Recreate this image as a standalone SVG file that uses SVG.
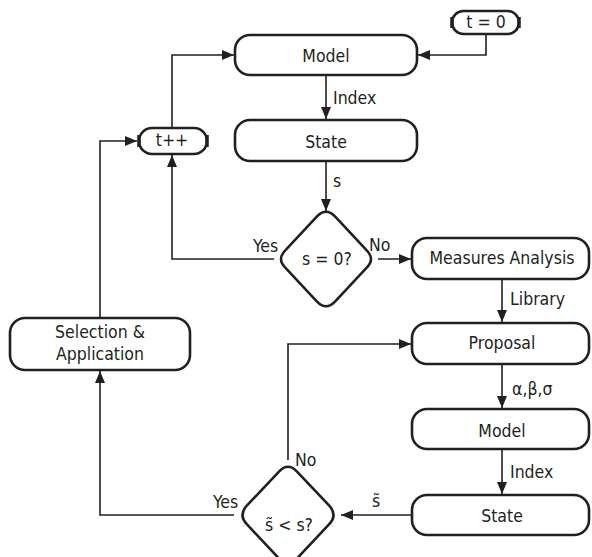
<svg xmlns="http://www.w3.org/2000/svg" width="592" height="557" viewBox="0 0 592 557">
<defs>
<marker id="ah" markerUnits="userSpaceOnUse" markerWidth="13" markerHeight="11" refX="12" refY="5" orient="auto">
<path d="M0,0 L12,5 L0,10 z" fill="#231f20"/>
</marker>
<style>
.box{fill:#fff;stroke:#231f20;stroke-width:2.6}
.cap{stroke:#231f20;stroke-width:3.5;stroke-linecap:butt}
.ln{fill:none;stroke:#231f20;stroke-width:1.6}
.arr{fill:none;stroke:#231f20;stroke-width:1.6;marker-end:url(#ah)}
text{font-family:"DejaVu Sans Condensed","DejaVu Sans",sans-serif;font-stretch:condensed;font-size:17.5px;fill:#231f20}
.c{text-anchor:middle}
</style>
</defs>
<rect width="592" height="557" fill="#fff"/>
<g id="connectors">
<polyline class="arr" points="486,35 486,55 418,55"/>
<line class="arr" x1="326" y1="75" x2="326" y2="119"/>
<line class="arr" x1="326" y1="161" x2="326" y2="211"/>
<polyline class="arr" points="274,259 172,259 172,155"/>
<polyline class="arr" points="172,127 172,55 234,55"/>
<polyline class="arr" points="100,318 100,141 137,141"/>
<line class="arr" x1="378" y1="259" x2="411" y2="259"/>
<line class="arr" x1="502" y1="279" x2="502" y2="322"/>
<line class="arr" x1="502" y1="364" x2="502" y2="408"/>
<line class="arr" x1="502" y1="449" x2="502" y2="494"/>
<line class="arr" x1="412" y1="515" x2="341" y2="515"/>
<polyline class="arr" points="288,460 288,344 411,344"/>
<polyline class="arr" points="234,515 100,515 100,371"/>
<text x="333" y="104">Index</text>
<text x="333" y="187">s</text>
<text x="253" y="252">Yes</text>
<text x="369" y="251">No</text>
<text x="510" y="305">Library</text>
<text x="512" y="395">α,β,σ</text>
<text x="510" y="478">Index</text>
<text x="372" y="507">s̃</text>
<text x="295" y="466">No</text>
<text x="213" y="508">Yes</text>
</g>
<g id="t0">
<rect class="box" x="452" y="11" width="67" height="23" rx="11.5"/>
<line class="cap" x1="452" y1="17" x2="452" y2="28"/>
<line class="cap" x1="519" y1="17" x2="519" y2="28"/>
<text class="c" x="486" y="28">t = 0</text>
</g>
<g id="model1">
<rect class="box" x="235" y="35" width="182" height="40" rx="15"/>
<text class="c" x="326" y="62">Model</text>
</g>
<g id="state1">
<rect class="box" x="235" y="120" width="182" height="41" rx="15"/>
<text class="c" x="326" y="148">State</text>
</g>
<g id="tpp">
<rect class="box" x="139" y="128" width="68" height="26" rx="13"/>
<line class="cap" x1="139" y1="135" x2="139" y2="147"/>
<line class="cap" x1="207" y1="135" x2="207" y2="147"/>
<text class="c" x="172" y="146">t++</text>
</g>
<g id="dec1">
<path class="box" d="M335,216.36 L366,249.64 Q376,259 366,268.36 L335,301.64 Q326,311 317,301.64 L286,268.36 Q276,259 286,249.64 L317,216.36 Q326,207 335,216.36 Z"/>
<text class="c" x="327" y="265">s = 0?</text>
</g>
<g id="measures">
<rect class="box" x="412" y="238" width="177" height="41" rx="15"/>
<text class="c" x="502" y="264">Measures Analysis</text>
</g>
<g id="proposal">
<rect class="box" x="412" y="323" width="177" height="41" rx="15"/>
<text class="c" x="502" y="349">Proposal</text>
</g>
<g id="model2">
<rect class="box" x="412" y="409" width="177" height="40" rx="15"/>
<text class="c" x="502" y="437">Model</text>
</g>
<g id="state2">
<rect class="box" x="412" y="495" width="177" height="40" rx="15"/>
<text class="c" x="502" y="522">State</text>
</g>
<g id="dec2">
<path class="box" d="M297,471.54 L329,505.46 Q338,515 329,524.46 L297,558.46 Q288,568 279,558.46 L247,524.46 Q238,515 247,505.46 L279,471.54 Q288,462 297,471.54 Z"/>
<text class="c" x="289" y="531">s̃ &lt; s?</text>
</g>
<g id="selection">
<rect class="box" x="10" y="318" width="180" height="52" rx="15"/>
<text class="c" x="100" y="338">Selection &amp;</text>
<text class="c" x="100" y="360">Application</text>
</g>
</svg>
